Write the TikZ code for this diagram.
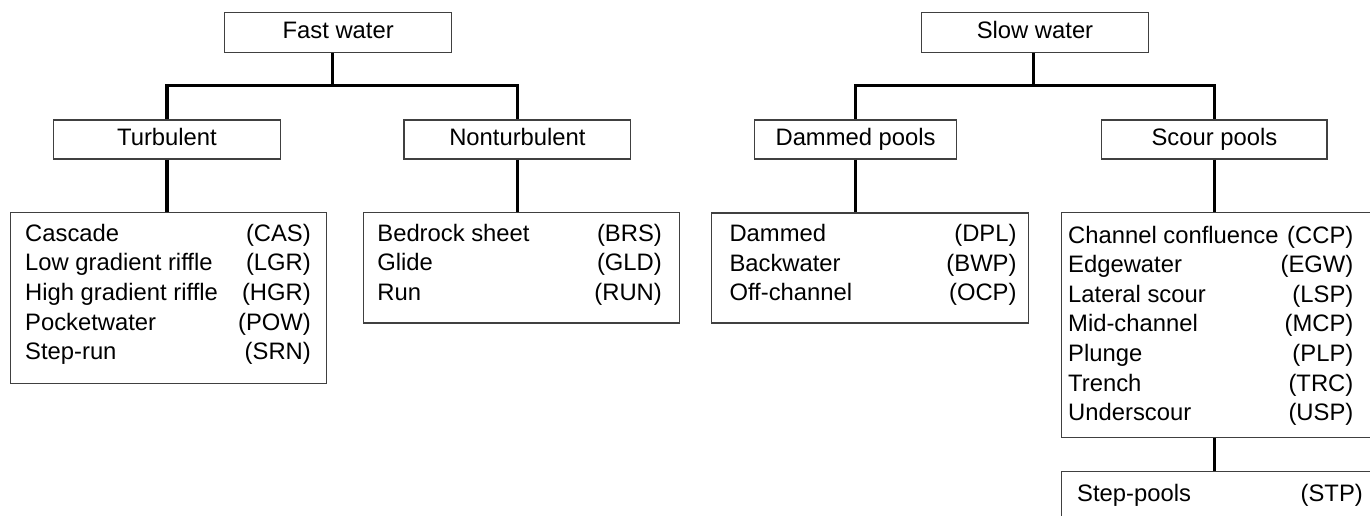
\documentclass[tikz,border=0pt]{standalone}
\usepackage{fontspec}
\setmainfont{Liberation Sans}
\begin{document}
\begin{tikzpicture}[x=1pt,y=-1pt,
  font=\fontsize{23.8}{28}\selectfont,
  box/.style={draw=black!75, line width=1.2pt, rectangle, inner sep=0pt,
    text height=17pt, text depth=5pt, align=center},
  listbox/.style={draw=black!75, line width=1.2pt, rectangle, inner sep=0pt,
    anchor=north west},
  conn/.style={line width=3.3pt, black, line cap=butt, line join=miter},
  item/.style={inner sep=0pt, anchor=base west},
  code/.style={inner sep=0pt, anchor=base east}]
\useasboundingbox (0,0) rectangle (1370,515);
\begin{scope}
\clip (0,0) rectangle (1370,515);

% ---------- fast water branch ----------
\node[box, minimum width=227.2pt, minimum height=40.4pt] (fast) at (338.2,32.5) {Fast water};
\node[box, minimum width=226.8pt, minimum height=39pt] (turb) at (167,139.5) {Turbulent};
\node[box, minimum width=226.8pt, minimum height=39pt] (nonturb) at (517.4,139.5) {Nonturbulent};
\node[listbox, minimum width=316.1pt, minimum height=170.7pt] (turblist) at (9.8,212) {};
\node[listbox, minimum width=316.1pt, minimum height=110.3pt] (nonturblist) at (362.5,212) {};

% ---------- slow water branch ----------
\node[box, minimum width=227.5pt, minimum height=40.4pt] (slow) at (1035,32.5) {Slow water};
\node[box, minimum width=201.6pt, minimum height=39pt] (dammed) at (855.6,139.5) {Dammed pools};
\node[box, minimum width=225.3pt, minimum height=39pt] (scour) at (1214.4,139.5) {Scour pools};
\node[listbox, minimum width=316.9pt, minimum height=110pt] (dammedlist) at (710.8,212.3) {};
\node[listbox, minimum width=330pt, minimum height=225pt] (scourlist) at (1060.7,212) {};
\node[listbox, minimum width=330pt, minimum height=60pt] (steplist) at (1060.7,471) {};

% ---------- list entries ----------
\foreach \name/\abbr [count=\i from 0] in
  {Cascade/(CAS), Low gradient riffle/(LGR), High gradient riffle/(HGR),
   Pocketwater/(POW), Step-run/(SRN)} {
  \node[item] (tn\i) at (25,241+29.7*\i) {\name};
  \node[code] (tc\i) at (311,241+29.7*\i) {\abbr};
}
\foreach \name/\abbr [count=\i from 0] in
  {Bedrock sheet/(BRS), Glide/(GLD), Run/(RUN)} {
  \node[item] (nn\i) at (377.2,241+29.7*\i) {\name};
  \node[code] (nc\i) at (662,241+29.7*\i) {\abbr};
}
\foreach \name/\abbr [count=\i from 0] in
  {Dammed/(DPL), Backwater/(BWP), Off-channel/(OCP)} {
  \node[item] (dn\i) at (729.3,241.5+29.7*\i) {\name};
  \node[code] (dc\i) at (1016.7,241.5+29.7*\i) {\abbr};
}
\foreach \name/\abbr [count=\i from 0] in
  {Channel confluence/(CCP), Edgewater/(EGW), Lateral scour/(LSP),
   Mid-channel/(MCP), Plunge/(PLP), Trench/(TRC), Underscour/(USP)} {
  \node[item] (sn\i) at (1068,243+29.6*\i) {\name};
  \node[code] (sc\i) at (1353.5,243+29.6*\i) {\abbr};
}
\node[item] (stpn) at (1077,501) {Step-pools};
\node[code] (stpc) at (1363,501) {(STP)};

% ---------- connectors ----------
\coordinate (fastJ) at (332.6,85.7);
\coordinate (slowJ) at (1033.4,85.7);

\draw[conn] (fast.south -| fastJ) -- (fastJ);
\draw[conn] (turb.north) -- (turb.north |- fastJ) -- (nonturb.north |- fastJ) -- (nonturb.north);
\draw[conn] (turb.south) -- (turb.south |- turblist.north);
\draw[conn] (nonturb.south) -- (nonturb.south |- nonturblist.north);

\draw[conn] (slow.south -| slowJ) -- (slowJ);
\draw[conn] (dammed.north) -- (dammed.north |- slowJ) -- (scour.north |- slowJ) -- (scour.north);
\draw[conn] (dammed.south) -- (dammed.south |- dammedlist.north);
\draw[conn] (scour.south) -- (scour.south |- scourlist.north);
\draw[conn] (scour.south |- scourlist.south) -- (scour.south |- steplist.north);
\end{scope}
\end{tikzpicture}
\end{document}
